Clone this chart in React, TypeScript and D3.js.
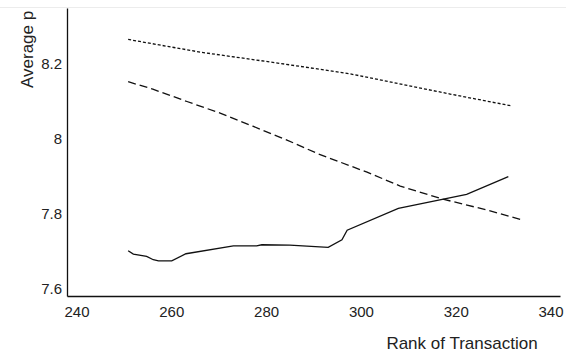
import React, { useEffect, useRef } from "react";
import { select, scaleLinear, line, axisBottom, axisLeft } from "d3";

// rank of transaction / average price
const solidRank = [250.9, 252.0, 254.8, 256.2, 257.3, 260.1, 263.1, 273.1, 278.0, 279.1, 285.0, 293.1, 296.0, 297.1, 307.9, 322.3, 331.1];
const solidPrice = [7.701, 7.692, 7.686, 7.677, 7.674, 7.674, 7.693, 7.714, 7.714, 7.717, 7.716, 7.71, 7.73, 7.756, 7.814, 7.852, 7.899];

const dashedRank = [250.9, 256.1, 263.3, 270.3, 277.2, 284.4, 291.0, 301.3, 308.3, 317.3, 322.4, 326.6, 334.2];
const dashedPrice = [8.153, 8.133, 8.1, 8.069, 8.034, 7.997, 7.96, 7.911, 7.874, 7.839, 7.823, 7.81, 7.783];

const dottedRank = [250.9, 266.1, 282.9, 297.7, 318.8, 331.9];
const dottedPrice = [8.266, 8.232, 8.202, 8.174, 8.12, 8.088];

const xTicks = [240, 260, 280, 300, 320, 340];
const yTicks = [7.6, 7.8, 8, 8.2];

const series = [
  { rank: solidRank, price: solidPrice, dash: null },
  { rank: dashedRank, price: dashedPrice, dash: "8,4" },
  { rank: dottedRank, price: dottedPrice, dash: "3,2" },
];

const App = () => {
  const svgRef = useRef<SVGSVGElement>(null);

  useEffect(() => {
    const svg = select(svgRef.current);
    svg.selectAll("*").remove();

    const font = "'Liberation Sans', Arial, sans-serif";

    // Scales
    const xScale = scaleLinear().domain([238, 342]).range([67, 560]);
    const yScale = scaleLinear().domain([7.58, 8.35]).range([296, 8]);

    // faint line along the top edge
    svg.append("line")
      .attr("x1", 0).attr("x2", 566)
      .attr("y1", 7.5).attr("y2", 7.5)
      .attr("stroke", "#ececec");

    // Lines
    const lineGen = line<[number, number]>()
      .x(d => xScale(d[0]))
      .y(d => yScale(d[1]));

    svg.append("g")
      .selectAll("path")
      .data(series)
      .join("path")
      .attr("d", s => lineGen(s.rank.map((r, i) => [r, s.price[i]] as [number, number])))
      .attr("fill", "none")
      .attr("stroke", "#111")
      .attr("stroke-width", 1.3)
      .attr("stroke-dasharray", s => s.dash);

    // Axes
    const xAxis = axisBottom(xScale).tickValues(xTicks).tickSize(0).tickPadding(10).tickFormat(d => String(d));
    const yAxis = axisLeft(yScale).tickValues(yTicks).tickSize(0).tickPadding(5).tickFormat(d => String(d));

    const gx = svg.append("g").attr("transform", "translate(0,296)").call(xAxis);
    const gy = svg.append("g").attr("transform", "translate(67,0)").call(yAxis);

    [gx, gy].forEach(g => {
      g.select(".domain").attr("stroke", "#111").attr("stroke-width", 1.3);
      g.selectAll("text").attr("font-family", font).attr("font-size", 15).attr("fill", "#222");
    });

    // Titles
    svg.append("text")
      .attr("x", 462).attr("y", 349)
      .attr("text-anchor", "middle")
      .attr("font-family", font).attr("font-size", 17).attr("fill", "#222")
      .text("Rank of Transaction");

    // the title is cut at the top edge in the original, only "Average p" shows
    svg.append("text")
      .attr("transform", "translate(33,88) rotate(-90)")
      .attr("text-anchor", "start")
      .attr("font-family", font).attr("font-size", 17).attr("fill", "#222")
      .text("Average p");
  }, []);

  return (
    <div>
      <svg ref={svgRef} width={566} height={352} style={{ position: "absolute", top: 0, left: 0 }}></svg>
    </div>
  );
};

export default App;
